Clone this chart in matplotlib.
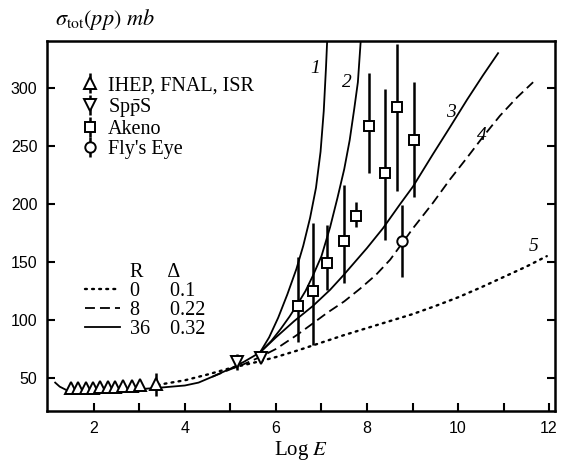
import numpy as np
import matplotlib
matplotlib.use("Agg")
from matplotlib import pyplot as plt
from matplotlib.lines import Line2D

plt.rcParams['mathtext.fontset'] = 'stix'
plt.rcParams['font.family'] = ['Liberation Serif', 'DejaVu Serif']

# model curves, Log E vs sigma_tot in mb
base_x = [1.15, 1.25, 1.4, 1.6, 2.0, 2.5, 3.0, 3.5, 4.0, 4.3, 4.6, 5.0, 5.3, 5.65]
base_y = [46, 42.5, 39.5, 38.3, 38, 39, 40.3, 41.8, 43.5, 46, 51, 58, 64, 72]

c1_x = [5.65, 5.85, 6.05, 6.25, 6.45, 6.6, 6.75, 6.88, 6.98, 7.05, 7.1, 7.13]
c1_y = [72, 85, 102, 122, 144, 164, 188, 214, 245, 280, 318, 345]

c2_x = [5.65, 5.9, 6.1, 6.3, 6.48, 6.65, 6.81, 7.0, 7.19, 7.35, 7.5, 7.62, 7.72, 7.8, 7.87]
c2_y = [72, 82, 92, 103, 114, 125, 138, 155, 180, 205, 230, 255, 282, 305, 345]

c3_x = [5.65, 6.0, 6.4, 6.81, 7.19, 7.47, 8.0, 8.35, 8.73, 9.01, 9.45, 9.82, 10.2, 10.55, 10.88]
c3_y = [72, 85, 99, 112, 126, 138, 162, 179, 200, 215, 243, 266, 290, 311, 330]

c4_x = [4.6, 5.0, 5.3, 5.65, 6.0, 6.46, 6.81, 7.12, 7.5, 7.85, 8.2, 8.51, 8.77, 9.01,
        9.45, 9.82, 10.2, 10.55, 10.92, 11.3, 11.65]
c4_y = [51, 57.5, 62, 68, 75, 87, 97, 106, 116, 127, 139, 152, 166, 179,
        201, 221, 240, 258, 276, 292, 305]

c5_x = [3.4, 4.0, 4.5, 5.0, 5.5, 6.0, 6.5, 7.0, 7.5, 8.0, 8.5, 9.0, 9.5, 10.0,
        10.5, 11.0, 11.5, 11.95]
c5_y = [44, 48, 53, 58.5, 63, 68, 74, 80.5, 87, 93, 99, 105, 112, 119.5,
        128, 137, 146, 155]

# data points
ihep_x = [1.49, 1.65, 1.82, 1.98, 2.13, 2.31, 2.46, 2.63, 2.84, 3.01, 3.36]
ihep_y = [41, 41, 41.5, 41.5, 42, 42, 42.5, 43, 43, 43.5, 44.5]
ihep_err = [1, 1, 1, 1, 1, 1, 1, 1, 1, 1, 10]

sps_x = [5.14, 5.67]
sps_y = [64, 67.5]
sps_err = [7, 4]

ak_x = [6.48, 6.81, 7.12, 7.49, 7.76, 8.04, 8.40, 8.66, 9.03]
ak_y = [112, 125, 149, 168, 190, 267, 227, 284, 255]
ak_lo = [81, 78, 126, 132, 180, 227, 169, 211, 206]
ak_hi = [154, 184, 182, 216, 202, 313, 299, 338, 305]

fe_x = [8.77]
fe_y = [168]
fe_lo = [137]
fe_hi = [199]

curve_labels = ['1', '2', '3', '4', '5']
label_x = [6.86, 7.56, 9.85, 10.53, 11.65]
label_y = [317, 305, 279, 259, 163]

fig = plt.figure(figsize=(5.64, 4.66), dpi=100)
ax = fig.add_axes([0.0833, 0.118, 0.9007, 0.794])

lw = 1.3
# solid curves share the low-energy part
ax.plot(base_x, base_y, color='black', lw=lw)
for cx, cy in [(c1_x, c1_y), (c2_x, c2_y), (c3_x, c3_y)]:
    ax.plot(cx, cy, color='black', lw=lw)
ax.plot(c4_x, c4_y, color='black', lw=lw, linestyle=(0, (5.5, 2.8)))
ax.plot(c5_x, c5_y, color='black', lw=1.7, linestyle=(0, (0.8, 2.2)),
        dash_capstyle='round')

ebkw = dict(color='black', linestyle='none', mfc='white', mec='black',
            mew=1.4, elinewidth=1.8, capsize=0)
eb_ihep = ax.errorbar(ihep_x, ihep_y, yerr=ihep_err, marker='^', ms=8.5, **ebkw)
eb_sps = ax.errorbar(sps_x, sps_y, yerr=sps_err, marker='v', ms=8.5, **ebkw)
ak_err = [np.array(ak_y) - np.array(ak_lo), np.array(ak_hi) - np.array(ak_y)]
eb_ak = ax.errorbar(ak_x, ak_y, yerr=ak_err, marker='s', ms=7.5, **ebkw)
fe_err = [np.array(fe_y) - np.array(fe_lo), np.array(fe_hi) - np.array(fe_y)]
eb_fe = ax.errorbar(fe_x, fe_y, yerr=fe_err, marker='o', ms=7.5, **ebkw)

for t, x, y in zip(curve_labels, label_x, label_y):
    ax.text(x, y, t, fontsize=14, style='italic', ha='center', va='center')

ax.set_xlim(0.97, 12.13)
ax.set_ylim(21.5, 340.5)
ax.set_xticks([2, 4, 6, 8, 10, 12])
ax.set_xticks([3, 5, 7, 9, 11], minor=True)
ax.set_yticks([50, 100, 150, 200, 250, 300])
ax.tick_params(which='both', direction='in', length=6, width=1.5,
               right=True, top=False, labelsize=11.5, pad=7)
for lab in ax.get_xticklabels() + ax.get_yticklabels():
    lab.set_family('Liberation Sans')
for sp in ax.spines.values():
    sp.set_linewidth(1.8)

ax.set_xlabel('Log $E$', fontsize=15, labelpad=2)
ax.text(0.016, 1.025, r'$\sigma_{\mathrm{tot}}(pp)\ mb$', transform=ax.transAxes,
        fontsize=16, ha='left', va='bottom')

leg1 = ax.legend([eb_ihep, eb_sps, eb_ak, eb_fe],
                 ['IHEP, FNAL, ISR', r'Sp$\bar{\mathrm{p}}$S', 'Akeno', "Fly's Eye"],
                 loc='upper left', bbox_to_anchor=(0.065, 0.905), frameon=False,
                 fontsize=14.5, handlelength=1.0, handletextpad=0.4,
                 labelspacing=0.05, borderpad=0, borderaxespad=0)
ax.add_artist(leg1)

h_head = Line2D([], [], color='none')
h0 = Line2D([], [], color='black', lw=1.7, linestyle=(0, (0.8, 2.2)), dash_capstyle='round')
h8 = Line2D([], [], color='black', lw=lw, linestyle=(0, (5.5, 2.8)))
h36 = Line2D([], [], color='black', lw=lw)
ax.legend([h_head, h0, h8, h36],
          ['R     \u0394', '0      0.1', '8      0.22', '36    0.32'],
          loc='upper left', bbox_to_anchor=(0.075, 0.40), frameon=False,
          fontsize=14.5, handlelength=1.75, handletextpad=0.5,
          labelspacing=0.0, borderpad=0, borderaxespad=0)

fig.savefig('out.png', dpi=100)
